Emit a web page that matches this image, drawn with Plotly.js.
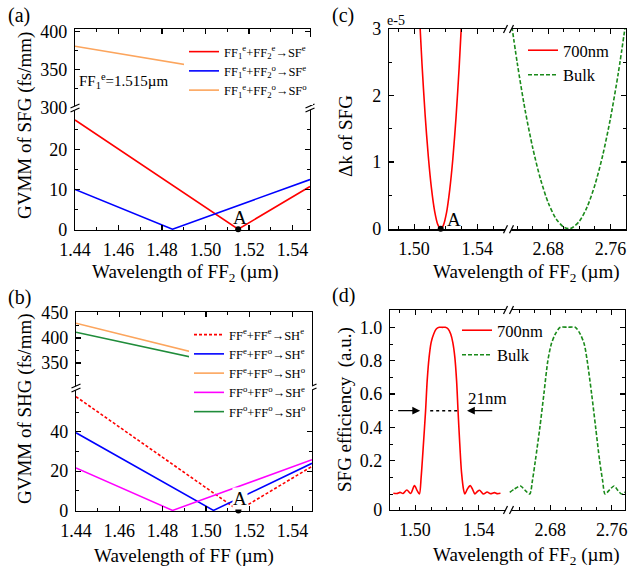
<!DOCTYPE html>
<html><head><meta charset="utf-8">
<script src="https://cdn.plot.ly/plotly-3.0.1.min.js"></script>
<style>html,body{margin:0;padding:0;background:#fff}#chart{width:632px;height:571px}</style>
</head><body><div id="chart"></div>
<script>
// ---------- Panel (a): GVMM of SFG ----------
const a_red_x = [1.44, 1.515, 1.548];
const a_red_y = [27.5, 0, 10.75];
const a_blue_x = [1.44, 1.4848, 1.548];
const a_blue_y = [10, 0, 12.5];
const a_orange_x = [1.44, 1.548];
const a_orange_y = [380.5, 329.5];
const a_ptA_x = [1.515], a_ptA_y = [0];
const a_names = [
  'FF<sub>1</sub><sup>e</sup>+FF<sub>2</sub><sup>e</sup>→SF<sup>e</sup>',
  'FF<sub>1</sub><sup>e</sup>+FF<sub>2</sub><sup>o</sup>→SF<sup>e</sup>',
  'FF<sub>1</sub><sup>e</sup>+FF<sub>2</sub><sup>o</sup>→SF<sup>o</sup>'];

// ---------- Panel (b): GVMM of SHG ----------
const b_red_x = [1.44, 1.515, 1.549];
const b_red_y = [57.9, 0, 22.4];
const b_blue_x = [1.44, 1.5035, 1.549];
const b_blue_y = [39.5, 0, 24.0];
const b_orange_x = [1.44, 1.549];
const b_orange_y = [429.4, 312.4];
const b_mag_x = [1.44, 1.4846, 1.549];
const b_mag_y = [21.6, 0, 25.8];
const b_green_x = [1.44, 1.549];
const b_green_y = [411.4, 309.5];
const b_ptA_x = [1.515], b_ptA_y = [0];
const b_names = [
  'FF<sup>e</sup>+FF<sup>e</sup>→SH<sup>e</sup>',
  'FF<sup>e</sup>+FF<sup>o</sup>→SH<sup>e</sup>',
  'FF<sup>e</sup>+FF<sup>o</sup>→SH<sup>o</sup>',
  'FF<sup>o</sup>+FF<sup>o</sup>→SH<sup>e</sup>',
  'FF<sup>o</sup>+FF<sup>o</sup>→SH<sup>o</sup>'];

// ---------- Panel (c): delta k (x1e-5) ----------
const c_red_x = [1.5030, 1.5050, 1.5070, 1.5090, 1.5110, 1.5130, 1.5150, 1.5168, 1.5185, 1.5205, 1.5225, 1.5245, 1.5265, 1.5285, 1.5305];
const c_red_y = [3.38, 2.47, 1.70, 1.08, 0.60, 0.26, 0.06, 0, 0.05, 0.24, 0.58, 1.05, 1.67, 2.43, 3.33];
const c_bulk_x = [2.630, 2.640, 2.650, 2.660, 2.670, 2.680, 2.690, 2.700, 2.706, 2.710, 2.720, 2.730, 2.740, 2.750, 2.760, 2.770, 2.780];
const c_bulk_y = [3.30, 2.49, 1.79, 1.21, 0.74, 0.386, 0.146, 0.021, 0, 0.009, 0.112, 0.329, 0.66, 1.105, 1.665, 2.34, 3.13];
const c_ptA_x = [1.5168], c_ptA_y = [0];

// ---------- Panel (d): SFG efficiency ----------
const d_red_x = [1.4863, 1.4886, 1.4905, 1.4924, 1.4948, 1.4972, 1.4996, 1.5013, 1.5027, 1.5038, 1.5051, 1.5066, 1.5076, 1.5088, 1.5101, 1.5117, 1.5133, 1.5152, 1.5171, 1.5190, 1.5208, 1.5224, 1.5237, 1.5250, 1.5261, 1.5270, 1.5281, 1.5292, 1.5306, 1.5313, 1.5329, 1.5347, 1.5363, 1.5376, 1.5392, 1.5406, 1.5417, 1.5430, 1.5453, 1.5474, 1.5499, 1.5518, 1.5537];
const d_red_y = [0.005, 0.003, 0.01, 0.003, 0.024, 0.003, 0.05, 0.02, 0.0, 0.1, 0.28, 0.5, 0.68, 0.82, 0.91, 0.96, 0.99, 1.0, 1.0, 1.0, 0.99, 0.96, 0.91, 0.82, 0.68, 0.5, 0.3, 0.13, 0.02, 0.0, 0.03, 0.05, 0.025, 0.0, 0.015, 0.022, 0.012, 0.0, 0.012, 0.002, 0.008, 0.002, 0.004];
const d_bulk_x = [2.6272, 2.6333, 2.6411, 2.6476, 2.6532, 2.6567, 2.6605, 2.6664, 2.6716, 2.6768, 2.6813, 2.6865, 2.6930, 2.7027, 2.7124, 2.7189, 2.7241, 2.7280, 2.7338, 2.7390, 2.7442, 2.7481, 2.7513, 2.7572, 2.7630, 2.7682, 2.7730, 2.7773];
const d_bulk_y = [0.01, 0.03, 0.048, 0.02, 0.0, 0.08, 0.2, 0.4, 0.6, 0.8, 0.9, 0.96, 1.0, 1.0, 1.0, 0.96, 0.9, 0.8, 0.6, 0.4, 0.2, 0.08, 0.0, 0.025, 0.048, 0.02, 0.0, 0.012];
const cd_names = ['700nm', 'Bulk'];

// tick labels
const ab_xticks = [1.44, 1.46, 1.48, 1.50, 1.52, 1.54];
const ab_xminor = [1.45, 1.47, 1.49, 1.51, 1.53];
const cd_xticksL = [1.50, 1.54], cd_xminorL = [1.49, 1.51, 1.52, 1.53, 1.55];
const cd_xticksR = [2.68, 2.76], cd_xminorR = [2.64, 2.66, 2.70, 2.72, 2.74];
const d_yticks = [-0.096, 0.2, 0.4, 0.6, 0.8, 1.0];
const d_yticktext = ['0', '0.2', '0.4', '0.6', '0.8', '1.0'];

// ---------- helpers ----------
const W = 632, H = 571;
const px = x => x / W, py = y => 1 - y / H;
const FONT = '"Liberation Serif", "Times New Roman", serif';
const RED = '#ff0000', BLUE = '#0000ff', ORANGE = '#fca55d', MAG = '#ff00ff', GRN = '#1f8c3a', BGRN = '#1a8a1a';

function ax(extra) {
  return Object.assign({
    showline: true, linecolor: 'black', linewidth: 1.2,
    ticks: 'inside', ticklen: 5, tickwidth: 1.2, tickcolor: 'black',
    showgrid: false, zeroline: false, fixedrange: true,
    tickfont: {family: FONT, size: 18, color: 'black'}
  }, extra);
}
function minor(vals) { return {tickvals: vals, ticks: 'inside', ticklen: 3, tickwidth: 1, tickcolor: 'black'}; }

function line(x, y, xa, ya, color, name, legend, dash, shape) {
  return {x: x, y: y, xaxis: xa, yaxis: ya, mode: 'lines', name: name, legend: legend,
    showlegend: !!name, line: {color: color, width: 1.6, dash: dash || 'solid', shape: shape || 'linear', smoothing: 0.8}};
}
function dot(x, y, xa, ya) {
  return {x: x, y: y, xaxis: xa, yaxis: ya, mode: 'markers', showlegend: false, cliponaxis: false,
    marker: {color: 'black', size: 6}};
}

const data = [
  line(a_red_x, a_red_y, 'x2', 'y2', RED, a_names[0], 'legend'),
  line(a_blue_x, a_blue_y, 'x2', 'y2', BLUE, a_names[1], 'legend'),
  line(a_orange_x, a_orange_y, 'x', 'y', ORANGE, a_names[2], 'legend'),
  dot(a_ptA_x, a_ptA_y, 'x2', 'y2'),

  line(b_red_x, b_red_y, 'x4', 'y4', RED, b_names[0], 'legend2', '3px,2px'),
  line(b_blue_x, b_blue_y, 'x4', 'y4', BLUE, b_names[1], 'legend2'),
  line(b_orange_x, b_orange_y, 'x3', 'y3', ORANGE, b_names[2], 'legend2'),
  line(b_mag_x, b_mag_y, 'x4', 'y4', MAG, b_names[3], 'legend2'),
  line(b_green_x, b_green_y, 'x3', 'y3', GRN, b_names[4], 'legend2'),
  dot(b_ptA_x, b_ptA_y, 'x4', 'y4'),

  line(c_red_x, c_red_y, 'x5', 'y5', RED, cd_names[0], 'legend3', 'solid', 'spline'),
  line(c_bulk_x, c_bulk_y, 'x6', 'y6', BGRN, cd_names[1], 'legend3', '4px,2px', 'spline'),
  dot(c_ptA_x, c_ptA_y, 'x5', 'y5'),

  line(d_red_x, d_red_y, 'x7', 'y7', RED, cd_names[0], 'legend4', 'solid', 'spline'),
  line(d_bulk_x, d_bulk_y, 'x8', 'y8', BGRN, cd_names[1], 'legend4', '4px,2px', 'spline')
];

// break marks
const shapes = [];
function seg(x0, y0, x1, y1) {
  shapes.push({type: 'line', xref: 'paper', yref: 'paper', x0: px(x0), y0: py(y0), x1: px(x1), y1: py(y1), line: {color: 'black', width: 1.2}});
}
function poly(pts) {
  const d = 'M' + pts.map(p => px(p[0]) + ',' + py(p[1])).join('L') + 'Z';
  shapes.push({type: 'path', xref: 'paper', yref: 'paper', path: d, fillcolor: 'white', line: {width: 0}});
}
function vbreak(X, Y) { // break on a vertical axis
  poly([[X - 4.5, Y], [X + 4.5, Y - 4], [X + 4.5, Y], [X - 4.5, Y + 4]]);
  seg(X - 4.5, Y, X + 4.5, Y - 4);
  seg(X - 4.5, Y + 4, X + 4.5, Y);
}
function hbreak(X, Y) { // break on a horizontal axis
  poly([[X - 5, Y + 4], [X - 1, Y - 4], [X + 5, Y - 4], [X + 1, Y + 4]]);
  seg(X - 5, Y + 4, X - 1, Y - 4);
  seg(X + 1, Y + 4, X + 5, Y - 4);
}
vbreak(75, 108); vbreak(310, 108);
vbreak(76, 388); vbreak(312, 388);
hbreak(508.5, 29); hbreak(508.5, 229.3);
hbreak(508.5, 310); hbreak(508.5, 510);

// dotted FWHM line in (d)
shapes.push({type: 'line', xref: 'x7', yref: 'y7', x0: 1.5095, x1: 1.52735, y0: 0.5, y1: 0.5, line: {color: 'black', width: 1.5, dash: 'dot'}});

function txt(x, y, t, size, extra) {
  return Object.assign({xref: 'paper', yref: 'paper', x: px(x), y: py(y), text: t, showarrow: false,
    xanchor: 'center', yanchor: 'middle', font: {family: FONT, size: size, color: 'black'}}, extra || {});
}
const arrowStyle = {text: '', showarrow: true, arrowhead: 2, arrowsize: 1.3, arrowwidth: 1.2, arrowcolor: 'black', standoff: 0, startstandoff: 0};
const annotations = [
  txt(19, 15, '(a)', 20), txt(19, 297, '(b)', 20), txt(343, 15, '(c)', 20), txt(343, 296, '(d)', 20),
  txt(25, 126, 'GVMM of SFG (fs/mm)', 19, {textangle: -90}),
  txt(25, 409, 'GVMM of SHG (fs/mm)', 19, {textangle: -90}),
  txt(345, 136, 'Δk of SFG', 19, {textangle: -90}),
  txt(345, 410, 'SFG efficiency  (a.u.)', 19, {textangle: -90}),
  txt(185, 273, 'Wavelength of FF<sub>2</sub> (µm)', 19),
  txt(184, 556, 'Wavelength of FF (µm)', 19),
  txt(526, 273, 'Wavelength of FF<sub>2</sub> (µm)', 19),
  txt(526, 556, 'Wavelength of FF<sub>2</sub> (µm)', 19),
  txt(123, 81, 'FF<sub>1</sub><sup>e</sup>=1.515µm', 15),
  txt(395.5, 20, 'e-5', 14),
  txt(240.5, 217, 'A', 19),
  txt(240.5, 498, 'A', 19, {bgcolor: 'white', borderpad: 0}),
  txt(454, 220, 'A', 19),
  txt(487, 398, '21nm', 17),
  Object.assign({xref: 'x7', yref: 'y7', axref: 'x7', ayref: 'y7', x: 1.50316, y: 0.5, ax: 1.4884, ay: 0.5}, arrowStyle),
  Object.assign({xref: 'x7', yref: 'y7', axref: 'x7', ayref: 'y7', x: 1.53266, y: 0.5, ax: 1.54946, ay: 0.5}, arrowStyle)
];

const legSmall = {bgcolor: 'white', borderwidth: 0, font: {family: FONT, size: 12.5, color: 'black'}, xanchor: 'left', yanchor: 'top', tracegroupgap: 0, itemwidth: 30};
const legBig = {bgcolor: 'rgba(255,255,255,0)', borderwidth: 0, font: {family: FONT, size: 16.5, color: 'black'}, xanchor: 'left', yanchor: 'top', tracegroupgap: 0, itemwidth: 30};

const layout = {
  width: W, height: H, autosize: false,
  margin: {l: 0, r: 0, t: 0, b: 0, pad: 0},
  paper_bgcolor: 'white', plot_bgcolor: 'rgba(0,0,0,0)',
  font: {family: FONT, color: 'black'},
  showlegend: true,
  legend: Object.assign({x: px(184), y: py(37)}, legSmall),
  legend2: Object.assign({x: px(189), y: py(320)}, legSmall),
  legend3: Object.assign({x: px(523), y: py(33)}, legBig),
  legend4: Object.assign({x: px(457), y: py(313)}, legBig),
  // (a)
  xaxis: ax({domain: [px(75), px(310)], range: [1.44, 1.548], anchor: 'y', side: 'top', showticklabels: false,
    tickvals: ab_xticks, minor: minor(ab_xminor)}),
  yaxis: ax({domain: [py(108), py(29)], range: [300, 403], anchor: 'x', mirror: 'ticks', ticklabelstandoff: 3,
    tickvals: [300, 350, 400], minor: minor([325, 375])}),
  xaxis2: ax({domain: [px(75), px(310)], range: [1.44, 1.548], anchor: 'y2', tickvals: ab_xticks, tickformat: '.2f', ticklabelstandoff: 3, minor: minor(ab_xminor)}),
  yaxis2: ax({domain: [py(230), py(108)], range: [-0.2, 30.5], anchor: 'x2', mirror: 'ticks', ticklabelstandoff: 3,
    tickvals: [0, 10, 20], minor: minor([5, 15, 25])}),
  // (b)
  xaxis3: ax({domain: [px(76), px(312)], range: [1.44, 1.549], anchor: 'y3', side: 'top', showticklabels: false,
    tickvals: ab_xticks, minor: minor(ab_xminor)}),
  yaxis3: ax({domain: [py(388), py(312)], range: [300, 452], anchor: 'x3', mirror: 'ticks', ticklabelstandoff: 3,
    tickvals: [350, 400, 450], minor: minor([325, 375, 425])}),
  xaxis4: ax({domain: [px(76), px(312)], range: [1.44, 1.549], anchor: 'y4', tickvals: ab_xticks, tickformat: '.2f', ticklabelstandoff: 3, minor: minor(ab_xminor)}),
  yaxis4: ax({domain: [py(511), py(388)], range: [-0.3, 62.3], anchor: 'x4', mirror: 'ticks', ticklabelstandoff: 3,
    tickvals: [0, 20, 40], minor: minor([10, 30, 50])}),
  // (c)
  xaxis5: ax({domain: [px(389), px(508.5)], range: [1.48413, 1.55968], anchor: 'y5', mirror: 'ticks', ticklabelstandoff: 3,
    tickvals: cd_xticksL, tickformat: '.2f', minor: minor(cd_xminorL)}),
  yaxis5: ax({domain: [py(229.3), py(29)], range: [-0.01, 3], anchor: 'x5', ticklabelstandoff: 3,
    tickvals: [0, 1, 2, 3], minor: minor([0.5, 1.5, 2.5])}),
  xaxis6: ax({domain: [px(508.5), px(626)], range: [2.62878, 2.77987], anchor: 'y6', mirror: 'ticks', ticklabelstandoff: 3,
    tickvals: cd_xticksR, tickformat: '.2f', minor: minor(cd_xminorR)}),
  yaxis6: ax({domain: [py(229.3), py(29)], range: [-0.01, 3], anchor: 'x6', side: 'right', showticklabels: false,
    tickvals: [0, 1, 2, 3], minor: minor([0.5, 1.5, 2.5])}),
  // (d)
  xaxis7: ax({domain: [px(390), px(508.5)], range: [1.48421, 1.55875], anchor: 'y7', mirror: 'ticks', ticklabelstandoff: 3,
    tickvals: cd_xticksL, tickformat: '.2f', minor: minor(cd_xminorL)}),
  yaxis7: ax({domain: [py(510), py(310)], range: [-0.096, 1.104], anchor: 'x7', ticklabelstandoff: 3,
    tickvals: d_yticks, ticktext: d_yticktext, minor: minor([0, 0.1, 0.3, 0.5, 0.7, 0.9])}),
  xaxis8: ax({domain: [px(508.5), px(625)], range: [2.62553, 2.77725], anchor: 'y8', mirror: 'ticks', ticklabelstandoff: 3,
    tickvals: cd_xticksR, tickformat: '.2f', minor: minor(cd_xminorR)}),
  yaxis8: ax({domain: [py(510), py(310)], range: [-0.096, 1.104], anchor: 'x8', side: 'right', showticklabels: false,
    tickvals: [0.2, 0.4, 0.6, 0.8, 1.0], minor: minor([0, 0.1, 0.3, 0.5, 0.7, 0.9])}),
  shapes: shapes,
  annotations: annotations
};

Plotly.newPlot('chart', data, layout, {staticPlot: true, displayModeBar: false});
</script>
</body></html>
